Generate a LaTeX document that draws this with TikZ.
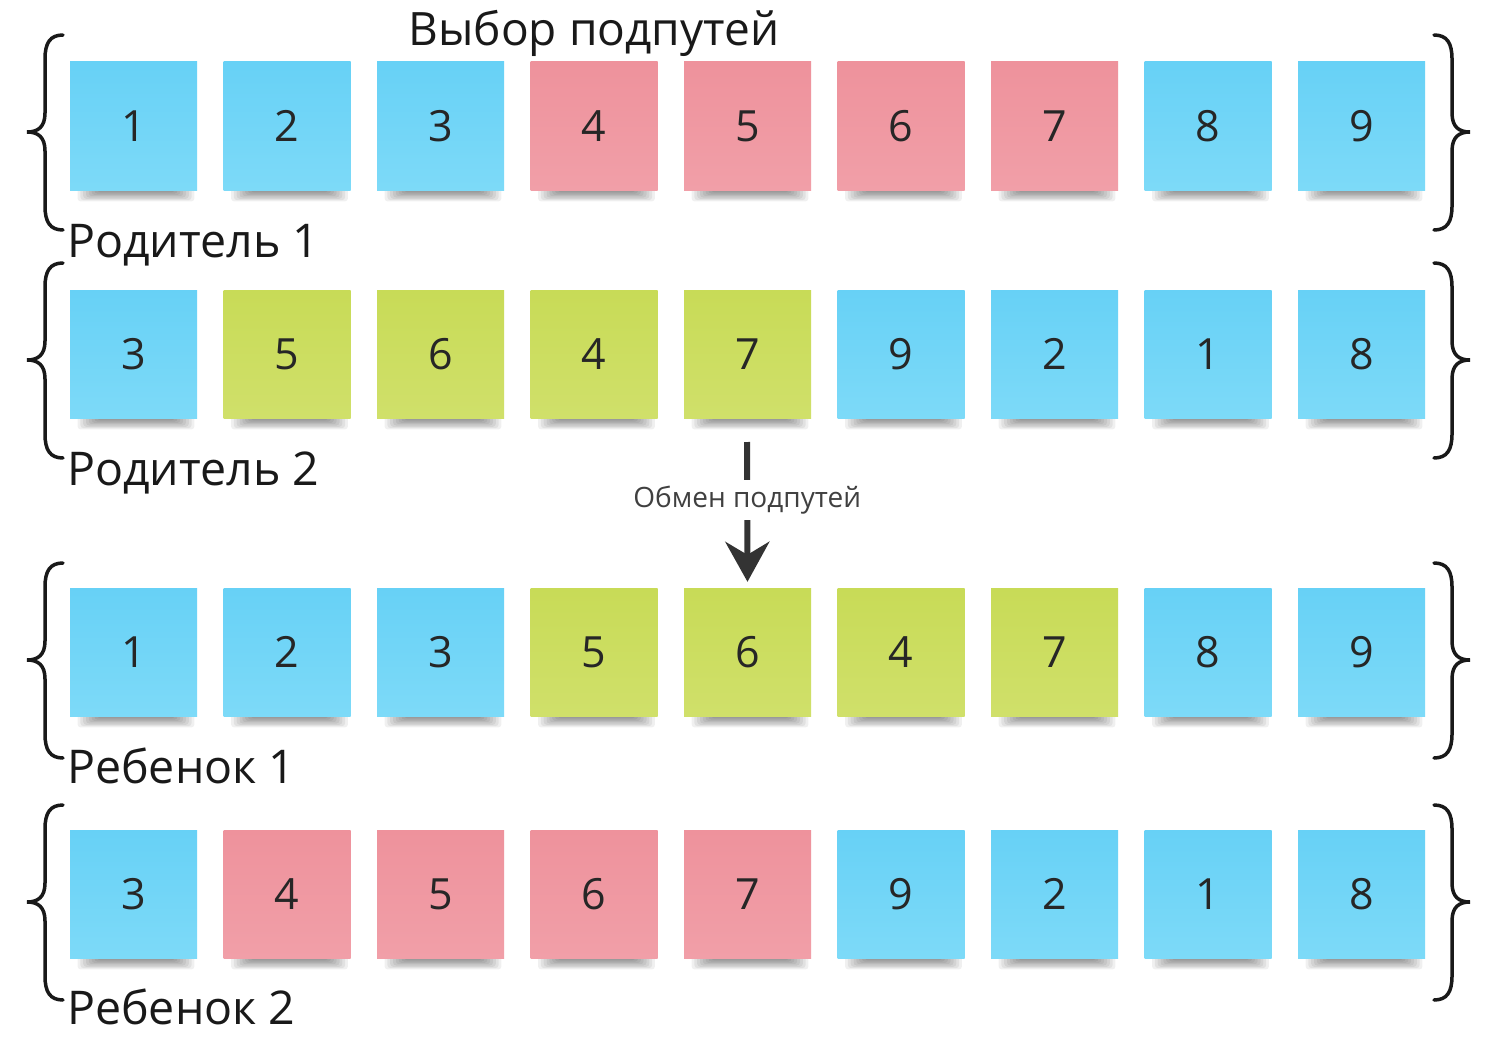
\documentclass[tikz,border=0pt]{standalone}
\usepackage{fontspec}
\setmainfont{Open Sans}
\usetikzlibrary{arrows.meta}
\definecolor{bluetop}{HTML}{67D1F6}
\definecolor{bluebot}{HTML}{7DDAF8}
\definecolor{pinktop}{HTML}{EE929C}
\definecolor{pinkbot}{HTML}{F19FA8}
\definecolor{greentop}{HTML}{C8DB57}
\definecolor{greenbot}{HTML}{D0E06A}
\definecolor{inkgray}{HTML}{333333}
\tikzset{
  note/.style={minimum width=127pt, minimum height=128pt, inner sep=0pt,
    font=\fontsize{43}{43}\selectfont, text=black!85},
  B/.style={note, top color=bluetop, bottom color=bluebot},
  P/.style={note, top color=pinktop, bottom color=pinkbot},
  G/.style={note, top color=greentop, bottom color=greenbot},
  shadowlayer/.style={fill=black, opacity=0.06, rounded corners=3pt},
  rowlabel/.style={anchor=base west, inner sep=0pt, font=\fontsize{46.5}{46.5}\selectfont, text=black!90},
  bracestyle/.style={line width=3.5pt, black!90, line cap=round},
}
\newcommand\noterow[3]{%
  \foreach \n/\c [count=\i] in {#3} {
    \foreach \k in {1,...,8} {
      \fill[shadowlayer] ({136+153.5*(\i-1)-(36+2.8*\k)}, #2+60) rectangle
        ({136+153.5*(\i-1)+(36+2.8*\k)}, {#2+65+1.3*\k});
    }
    \node[\c] (r#1c\i) at ({133.5+153.5*(\i-1)}, #2) {\n};
  }%
}
\newcommand\bracepair[1]{%
  \draw[bracestyle] (63,#1) .. controls (50,#1) and (45,#1+8) .. (45,#1+24) -- (45,#1+78)
    .. controls (45,#1+92) and (38,#1+97) .. (27,#1+97)
    .. controls (38,#1+97) and (45,#1+102) .. (45,#1+116) -- (45,#1+171)
    .. controls (45,#1+187) and (50,#1+195) .. (63,#1+195);
  \draw[bracestyle] (1434,#1) .. controls (1447,#1) and (1452,#1+8) .. (1452,#1+24) -- (1452,#1+78)
    .. controls (1452,#1+92) and (1459,#1+97) .. (1470,#1+97)
    .. controls (1459,#1+97) and (1452,#1+102) .. (1452,#1+116) -- (1452,#1+171)
    .. controls (1452,#1+187) and (1447,#1+195) .. (1434,#1+195);
}
\begin{document}
\begin{tikzpicture}[x=1pt,y=-1pt]
\useasboundingbox (0,0) rectangle (1493,1046);
\fill[white] (0,0) rectangle (1493,1046);
% title
\node[anchor=base, inner sep=0pt, font=\fontsize{46}{46}\selectfont, text=black!90] (title) at (594,46) {Выбор подпутей};
% rows
\noterow{1}{126}{1/B,2/B,3/B,4/P,5/P,6/P,7/P,8/B,9/B}
\noterow{2}{354}{3/B,5/G,6/G,4/G,7/G,9/B,2/B,1/B,8/B}
\noterow{3}{652}{1/B,2/B,3/B,5/G,6/G,4/G,7/G,8/B,9/B}
\noterow{4}{894}{3/B,4/P,5/P,6/P,7/P,9/B,2/B,1/B,8/B}
% braces
\bracepair{35}
\bracepair{263}
\bracepair{563}
\bracepair{805}
% labels
\node[rowlabel] (lab1) at (67,257) {Родитель 1};
\node[rowlabel] (lab2) at (67,485) {Родитель 2};
\node[rowlabel] (lab3) at (67,783) {Ребенок 1};
\node[rowlabel] (lab4) at (67,1024) {Ребенок 2};
% arrow
\coordinate (astart) at (747,442);
\draw[line width=6pt, inkgray, shorten >=6pt,
  -{Stealth[length=40pt,width=44pt,inset=13pt]}] (astart) -- (r3c5.north)
  node[pos=0.40, fill=white, inner xsep=2pt, inner ysep=6pt, text=black!75,
       font=\fontsize{28}{28}\selectfont] (swap) {Обмен подпутей};
\end{tikzpicture}
\end{document}
